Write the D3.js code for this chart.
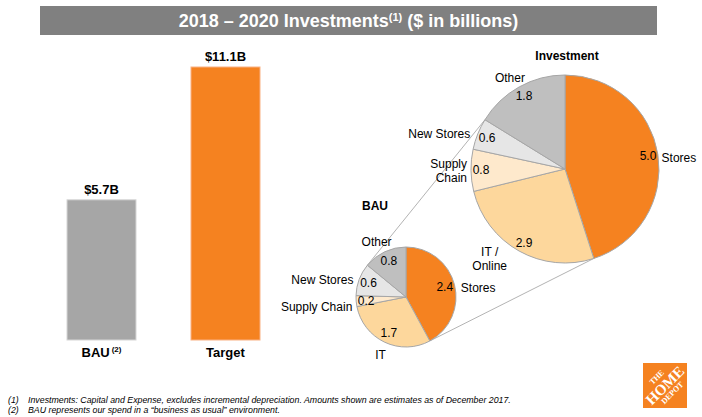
<!DOCTYPE html>
<html>
<head>
<meta charset="utf-8">
<script src="https://cdn.jsdelivr.net/npm/d3@7"></script>
<style>
  html, body { margin: 0; padding: 0; background: #ffffff; }
  svg { display: block; font-family: "Liberation Sans", Arial, sans-serif; }
</style>
</head>
<body>
<svg id="chart" width="702" height="417"></svg>
<script>
// ---------------- DATA ----------------
const titleMain = "2018 \u2013 2020 Investments";
const titleRef = "(1)";
const titleTail = " ($ in billions)";

const barCategories = ["BAU", "Target"];
const barValues = [5.7, 11.1];
const barCategoryRefs = ["(2)", ""];

const bauTitle = "BAU";
const bauSliceLabels = ["Stores", "IT", "Supply Chain", "New Stores", "Other"];
const bauSliceValues = [2.4, 1.7, 0.2, 0.6, 0.8];

const investTitle = "Investment";
const investSliceLabels = ["Stores", "IT /\nOnline", "Supply\nChain", "New Stores", "Other"];
const investSliceValues = [5.0, 2.9, 0.8, 0.6, 1.8];

const footnotes = [
  ["(1)", "Investments: Capital and Expense, excludes incremental depreciation. Amounts shown are estimates as of December 2017."],
  ["(2)", "BAU represents our spend in a \u201cbusiness as usual\u201d environment."]
];
const logoLines = ["THE", "HOME", "DEPOT"];

// ---------------- LAYOUT / STYLE ----------------
const svg = d3.select("#chart");
const ORANGE = "#f58220";
const sliceColor = d3.scaleOrdinal()
  .domain([0, 1, 2, 3, 4])
  .range([ORANGE, "#fdd79c", "#fee9cc", "#e6e6e6", "#bfbfbf"]);

// Title bar
const titleBar = { x0: 40, x1: 657, y0: 6, y1: 35 };
svg.append("rect")
  .attr("x", titleBar.x0).attr("y", titleBar.y0)
  .attr("width", titleBar.x1 - titleBar.x0).attr("height", titleBar.y1 - titleBar.y0)
  .attr("fill", "#808080");
const tt = svg.append("text")
  .attr("x", (titleBar.x0 + titleBar.x1) / 2)
  .attr("y", 27)
  .attr("text-anchor", "middle")
  .attr("fill", "#ffffff")
  .style("font-family", "'Liberation Sans Narrow', 'Arial Narrow', sans-serif")
  .style("font-weight", "bold")
  .style("font-size", "18px");
tt.append("tspan").text(titleMain);
tt.append("tspan").attr("dy", -6).style("font-size", "11px").text(titleRef);
tt.append("tspan").attr("dy", 6).text(titleTail);

// ---------------- BARS ----------------
const x = d3.scaleBand()
  .domain(barCategories)
  .range([67, 260])
  .paddingInner(0.4435)
  .paddingOuter(0);
const y = d3.scaleLinear().domain([0, 11.1]).range([340, 67]);
const barFill = d3.scaleOrdinal().domain(barCategories).range(["#a6a6a6", ORANGE]);
const barStroke = d3.scaleOrdinal().domain(barCategories).range(["#d6d6d6", "#f9b184"]);
const fmtB = v => "$" + d3.format(".1f")(v) + "B";

const bars = svg.append("g").attr("class", "bars");
barCategories.forEach((c, i) => {
  bars.append("rect")
    .attr("x", x(c)).attr("y", y(barValues[i]))
    .attr("width", x.bandwidth()).attr("height", y(0) - y(barValues[i]))
    .attr("fill", barFill(c)).attr("stroke", barStroke(c)).attr("stroke-width", 1);
  bars.append("text")
    .attr("x", x(c) + x.bandwidth() / 2).attr("y", y(barValues[i]) - 6)
    .attr("text-anchor", "middle")
    .style("font-weight", "bold").style("font-size", "13px").attr("fill", "#000")
    .text(fmtB(barValues[i]));
  const ct = bars.append("text")
    .attr("x", x(c) + x.bandwidth() / 2).attr("y", y(0) + 17)
    .attr("text-anchor", "middle")
    .style("font-weight", "bold").style("font-size", "13px").attr("fill", "#000");
  ct.append("tspan").text(c);
  if (barCategoryRefs[i]) {
    ct.append("tspan").attr("dx", 2).attr("dy", -5).style("font-size", "8px").text(barCategoryRefs[i]);
  }
});

// ---------------- PIES ----------------
const pie = d3.pie().sort(null).value(d => d);
const bauPie = { cx: 406, cy: 297, r: 50, titleDx: -31, titleDy: -87 };
const invPie = { cx: 565, cy: 169, r: 94, titleDx: 2, titleDy: -109 };
const bauArcs = pie(bauSliceValues);
const invArcs = pie(investSliceValues);

const polar = (p, a, rr) => [p.cx + rr * Math.sin(a), p.cy - rr * Math.cos(a)];

// connector lines (under pies)
const conn = svg.append("g").attr("class", "connectors");
[[bauArcs[4].startAngle, invArcs[4].startAngle], [bauArcs[0].endAngle, invArcs[0].endAngle]].forEach(([a1, a2]) => {
  const p1 = polar(bauPie, a1, bauPie.r), p2 = polar(invPie, a2, invPie.r);
  conn.append("line")
    .attr("x1", p1[0]).attr("y1", p1[1]).attr("x2", p2[0]).attr("y2", p2[1])
    .attr("stroke", "#a0a0a0").attr("stroke-width", 0.8);
});

const labelNudge = {
  bau: { 0: [3, 6], 1: [0, 3], 2: [0, 5], 3: [-4, 4] },
  invest: { 0: [0, 5], 1: [-19, -8], 3: [-6, 4] }
};

function drawPie(key, P, arcs, labels, title) {
  const g = svg.append("g").attr("transform", `translate(${P.cx},${P.cy})`);
  const arc = d3.arc().innerRadius(0).outerRadius(P.r);
  g.selectAll("path.slice").data(arcs).enter().append("path")
    .attr("class", "slice")
    .attr("d", arc)
    .attr("fill", (d, i) => sliceColor(i))
    .attr("stroke", "#a6a6a6").attr("stroke-width", 1);

  // value labels inside
  const valArc = d3.arc().innerRadius(P.r - 10).outerRadius(P.r - 10);
  g.selectAll("text.val").data(arcs).enter().append("text")
    .attr("class", "val")
    .attr("transform", d => `translate(${valArc.centroid(d)})`)
    .attr("dy", "0.35em")
    .attr("text-anchor", "middle")
    .style("font-size", "12px").attr("fill", "#000")
    .text(d => d3.format(".1f")(d.data));

  // outer category labels
  const LH = 14, gap = 4;
  arcs.forEach((d, i) => {
    const a = (d.startAngle + d.endAngle) / 2;
    const lines = labels[i].split("\n");
    const t = g.append("text").style("font-size", "12px").attr("fill", "#000");
    lines.forEach((l, k) => t.append("tspan").attr("x", 0).attr("dy", k === 0 ? 0 : LH).text(l));
    const w = t.node().getBBox().width, h = lines.length * LH;
    const px = (P.r + gap) * Math.sin(a), py = -(P.r + gap) * Math.cos(a);
    let cx = px + (w / 2) * Math.sin(a), cy = py - (h / 2) * Math.cos(a);
    const nd = labelNudge[key][i] || [0, 0];
    cx += nd[0]; cy += nd[1];
    const s = Math.sin(a);
    let anchor = "middle", ax = cx;
    if (lines.length > 1 && s < -0.7) { anchor = "end"; ax = cx + w / 2; }
    t.attr("text-anchor", anchor)
      .attr("transform", `translate(${ax},${cy - h / 2 + 11.3})`);
  });

  g.append("text")
    .attr("x", P.titleDx).attr("y", P.titleDy)
    .attr("text-anchor", "middle")
    .style("font-weight", "bold").style("font-size", "12px").attr("fill", "#000")
    .text(title);
}
drawPie("bau", bauPie, bauArcs, bauSliceLabels, bauTitle);
drawPie("invest", invPie, invArcs, investSliceLabels, investTitle);

// ---------------- FOOTNOTES ----------------
const fn = svg.append("g").style("font-style", "italic").style("font-size", "8.8px").attr("fill", "#000");
footnotes.forEach((f, i) => {
  fn.append("text").attr("x", 8).attr("y", 403 + i * 10).text(f[0]);
  fn.append("text").attr("x", 28).attr("y", 403 + i * 10).text(f[1]);
});

// ---------------- LOGO ----------------
const logo = svg.append("g").attr("transform", "translate(643,363)");
logo.append("rect").attr("width", 44).attr("height", 45).attr("fill", ORANGE);
const lg = logo.append("g").attr("transform", "translate(22,22.5) rotate(-45)")
  .style("font-family", "'Liberation Serif', 'Times New Roman', serif")
  .style("font-weight", "bold").attr("fill", "#fff").attr("text-anchor", "middle");
lg.append("text").attr("y", -9).style("font-size", "8px").text(logoLines[0]);
lg.append("text").attr("y", 5).style("font-size", "15px").text(logoLines[1]);
lg.append("text").attr("y", 13).style("font-size", "8px").text(logoLines[2]);
</script>
</body>
</html>
